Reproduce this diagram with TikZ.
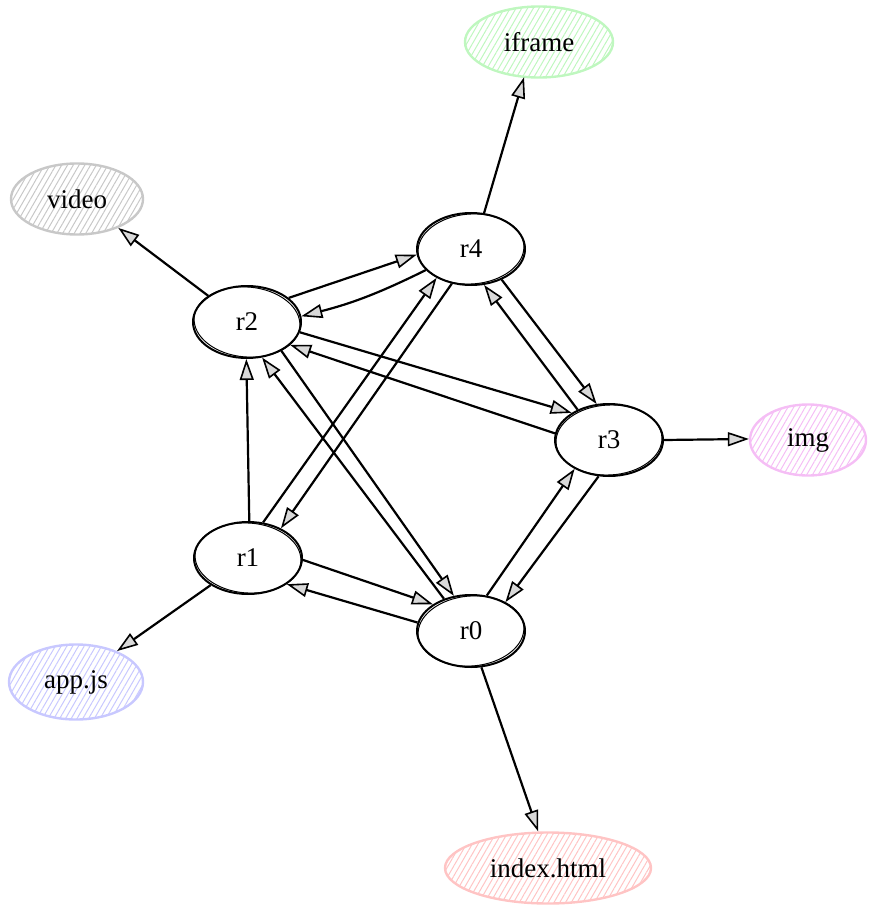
\documentclass[tikz,border=0pt]{standalone}
\usepackage{fontspec}
\setmainfont{Liberation Serif}
\usetikzlibrary{arrows.meta,patterns.meta,shapes.geometric}
\definecolor{cgreen}{HTML}{BFF7BF}
\definecolor{cgray}{HTML}{C8C8C8}
\definecolor{cpink}{HTML}{F5BEF5}
\definecolor{cblue}{HTML}{C8C8FF}
\definecolor{cred}{HTML}{FFC4C4}
\begin{document}
\begin{tikzpicture}[x=1pt,y=-1pt,
  lbl/.style={font=\fontsize{27}{30}\selectfont},
  rnode/.style={ellipse, draw, line width=2pt, fill=white, minimum width=108pt, minimum height=72pt, inner sep=0pt, lbl},
  cnode/.style={ellipse, draw=#1, line width=2.4pt, pattern={Lines[angle=60,distance=5pt,line width=1pt]}, pattern color=#1, inner sep=0pt, minimum height=71pt, lbl},
  rim/.style={line width=1pt},
  edge/.style={line width=2.2pt, -{Triangle[length=21pt,width=14pt,fill=gray!30,line width=1.6pt]}}
]
\useasboundingbox (0,0) rectangle (870,912);

% nodes
\node[rnode] (r4) at (471,249) {r4};
\node[rnode] (r2) at (247,322) {r2};
\node[rnode] (r3) at (609,440) {r3};
\node[rnode] (r1) at (248,558) {r1};
\node[rnode] (r0) at (471,631) {r0};
\node[cnode=cgreen, minimum width=148pt] (iframe) at (539,42) {iframe};
\node[cnode=cgray, minimum width=132pt] (video) at (77,199) {video};
\node[cnode=cpink, minimum width=116pt] (img) at (808,440) {img};
\node[cnode=cblue, minimum width=134pt, minimum height=75pt] (appjs) at (76,682) {app.js};
\node[cnode=cred, minimum width=206pt] (index) at (548,868) {index.html};

% sketchy second rims
\foreach \n/\a in {r4/4,r2/-5,r3/3,r1/-4,r0/5}{
  \draw[rim, rotate around={\a:(\n.center)}] (\n.center) ellipse [x radius=53pt, y radius=35pt];
}

% edges
\draw[edge] (r4.70) -- (iframe.247);
\draw[edge] (r2.146) -- (video.325);
\draw[edge] (r2.30) -- (r4.186);
\draw[edge] (r4.205) to[bend left=6] (r2.6);
\draw[edge] (r2.-11) -- (r3.144);
\draw[edge] (r3.173) -- (r2.-28);
\draw[edge] (r2.-40) -- (r0.116);
\draw[edge] (r0.130) -- (r2.-67);
\draw[edge] (r1.88) -- (r2.269);
\draw[edge] (r1.67) -- (r4.220);
\draw[edge] (r4.241) -- (r1.42);
\draw[edge] (r1.-2) -- (r0.145);
\draw[edge] (r0.171) -- (r1.-34);
\draw[edge] (r1.216) -- (appjs.37);
\draw[edge] (r4.-45) -- (r3.109);
\draw[edge] (r3.136) -- (r4.-70);
\draw[edge] (r3.0) -- (img.179);
\draw[edge] (r0.66) -- (r3.220);
\draw[edge] (r3.254) -- (r0.40);
\draw[edge] (r0.-74) -- (index.105);
\end{tikzpicture}
\end{document}
